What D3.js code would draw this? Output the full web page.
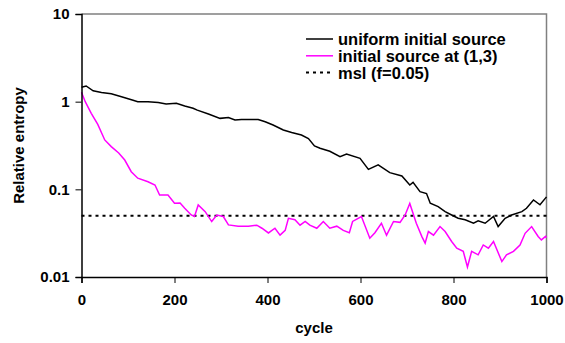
<!DOCTYPE html>
<html>
<head>
<meta charset="utf-8">
<script src="https://cdn.jsdelivr.net/npm/d3@7"></script>
<style>
  html, body { margin: 0; padding: 0; background: #fff; }
  svg { display: block; }
</style>
</head>
<body>
<div id="chart"></div>
<script>
// uniform initial source (black)
const uniformCycles = [0, 10, 25, 43, 64, 86, 111, 121, 143, 165, 182, 204, 222, 240, 249, 273, 298, 316, 330, 344, 380, 395, 412, 434, 452, 473, 488, 501, 513, 534, 556, 570, 599, 617, 638, 663, 689, 706, 713, 728, 742, 750, 767, 782, 796, 810, 825, 843, 853, 868, 886, 896, 911, 925, 947, 957, 972, 986, 1000];
const uniformValues = [1.46, 1.51, 1.33, 1.27, 1.23, 1.14, 1.04, 1.0, 1.0, 0.98, 0.94, 0.96, 0.893, 0.84, 0.80, 0.724, 0.645, 0.66, 0.618, 0.627, 0.627, 0.59, 0.542, 0.475, 0.445, 0.417, 0.38, 0.313, 0.294, 0.272, 0.236, 0.253, 0.226, 0.169, 0.19, 0.155, 0.142, 0.112, 0.12, 0.094, 0.0895, 0.0695, 0.0635, 0.0557, 0.051, 0.0468, 0.045, 0.041, 0.0437, 0.041, 0.049, 0.0376, 0.0468, 0.051, 0.0557, 0.0608, 0.0757, 0.0666, 0.082];

// initial source at (1,3) (magenta)
const sourceCycles = [0, 8, 21, 35, 50, 64, 80, 93, 107, 121, 143, 158, 168, 186, 200, 212, 222, 236, 243, 251, 266, 280, 291, 305, 316, 337, 359, 377, 388, 402, 416, 427, 438, 445, 459, 470, 481, 491, 506, 520, 534, 549, 563, 576, 583, 602, 620, 631, 645, 656, 671, 685, 696, 706, 720, 732, 739, 746, 757, 771, 782, 796, 807, 821, 830, 839, 853, 864, 875, 886, 904, 914, 929, 943, 954, 968, 982, 989, 998, 1000];
const sourceValues = [1.28, 1.0, 0.736, 0.55, 0.366, 0.307, 0.26, 0.216, 0.159, 0.134, 0.122, 0.112, 0.086, 0.086, 0.0695, 0.07, 0.061, 0.051, 0.049, 0.0664, 0.0557, 0.0429, 0.051, 0.049, 0.0393, 0.038, 0.038, 0.039, 0.036, 0.0318, 0.036, 0.030, 0.034, 0.0467, 0.045, 0.039, 0.043, 0.039, 0.036, 0.043, 0.036, 0.038, 0.034, 0.032, 0.043, 0.049, 0.0277, 0.032, 0.041, 0.030, 0.043, 0.042, 0.051, 0.069, 0.041, 0.0289, 0.0243, 0.033, 0.030, 0.0376, 0.033, 0.0254, 0.0213, 0.0196, 0.013, 0.0196, 0.0179, 0.0232, 0.0213, 0.0254, 0.015, 0.0179, 0.0196, 0.0232, 0.0315, 0.0376, 0.029, 0.0265, 0.029, 0.028];

const mslLevel = 0.05;

const xTicks = [0, 200, 400, 600, 800, 1000];
const yTicks = [0.01, 0.1, 1, 10];
const yTickLabels = ["0.01", "0.1", "1", "10"];
const legendLabels = ["uniform initial source", "initial source at (1,3)", "msl (f=0.05)"];

const width = 565;
const height = 343;
const plotLeft = 81.5, plotRight = 546.5, plotTop = 14, plotBottom = 277;
const font = "Arial, 'Liberation Sans', sans-serif";
const magenta = "#ff00ff";

const svg = d3.select("#chart").append("svg")
  .attr("width", width)
  .attr("height", height)
  .style("font-family", font);

const x = d3.scaleLinear().domain([0, 1000]).range([plotLeft, plotRight]);
const y = d3.scaleLog().domain([0.01, 10]).range([plotBottom, plotTop]);

// frame: top and right in grey
svg.append("path")
  .attr("d", `M${plotLeft},${plotTop}H${plotRight}V${plotBottom}`)
  .attr("fill", "none")
  .attr("stroke", "#808080")
  .attr("stroke-width", 1.5);

// msl dotted line
svg.append("line")
  .attr("x1", x(0)).attr("x2", x(1000))
  .attr("y1", y(mslLevel)).attr("y2", y(mslLevel))
  .attr("stroke", "#000")
  .attr("stroke-width", 2)
  .attr("stroke-dasharray", "3,4");

const line = d3.line().x(d => x(d[0])).y(d => y(d[1]));

svg.append("path")
  .datum(d3.zip(uniformCycles, uniformValues))
  .attr("d", line)
  .attr("fill", "none")
  .attr("stroke", "#000")
  .attr("stroke-width", 1.5);

svg.append("path")
  .datum(d3.zip(sourceCycles, sourceValues))
  .attr("d", line)
  .attr("fill", "none")
  .attr("stroke", magenta)
  .attr("stroke-width", 1.5);

// axes
const xAxis = svg.append("g")
  .attr("transform", `translate(0,${plotBottom})`)
  .call(d3.axisBottom(x).tickValues(xTicks).tickSize(6).tickPadding(11).tickFormat(d3.format("d")));

const yAxis = svg.append("g")
  .attr("transform", `translate(${plotLeft},0)`)
  .call(d3.axisLeft(y).tickValues(yTicks).tickSize(6).tickPadding(6)
    .tickFormat((d, i) => yTickLabels[i]));

[xAxis, yAxis].forEach(g => {
  g.select(".domain").attr("stroke", "#000").attr("stroke-width", 1.5);
  g.selectAll(".tick line").attr("stroke", "#000").attr("stroke-width", 1);
  g.selectAll(".tick text")
    .attr("fill", "#000")
    .attr("font-size", "15px")
    .attr("font-weight", "bold")
    .attr("font-family", font);
});

// axis titles
svg.append("text")
  .attr("x", (plotLeft + plotRight) / 2)
  .attr("y", 333)
  .attr("text-anchor", "middle")
  .attr("font-size", "15px")
  .attr("font-weight", "bold")
  .text("cycle");

svg.append("text")
  .attr("transform", `translate(24,${(plotTop + plotBottom) / 2}) rotate(-90)`)
  .attr("text-anchor", "middle")
  .attr("font-size", "15px")
  .attr("font-weight", "bold")
  .text("Relative entropy");

// legend
const legendStyles = [
  { color: "#000", dash: null, width: 1.5 },
  { color: magenta, dash: null, width: 1.5 },
  { color: "#000", dash: "3,4", width: 2 }
];
const legend = svg.append("g");
legendLabels.forEach((label, i) => {
  const ly = 39 + i * 16.8;
  legend.append("line")
    .attr("x1", 306).attr("x2", 333)
    .attr("y1", ly).attr("y2", ly)
    .attr("stroke", legendStyles[i].color)
    .attr("stroke-width", legendStyles[i].width)
    .attr("stroke-dasharray", legendStyles[i].dash);
  legend.append("text")
    .attr("x", 338)
    .attr("y", ly)
    .attr("dy", "0.36em")
    .attr("font-size", "16.5px")
    .attr("font-weight", "bold")
    .text(label);
});
</script>
</body>
</html>
